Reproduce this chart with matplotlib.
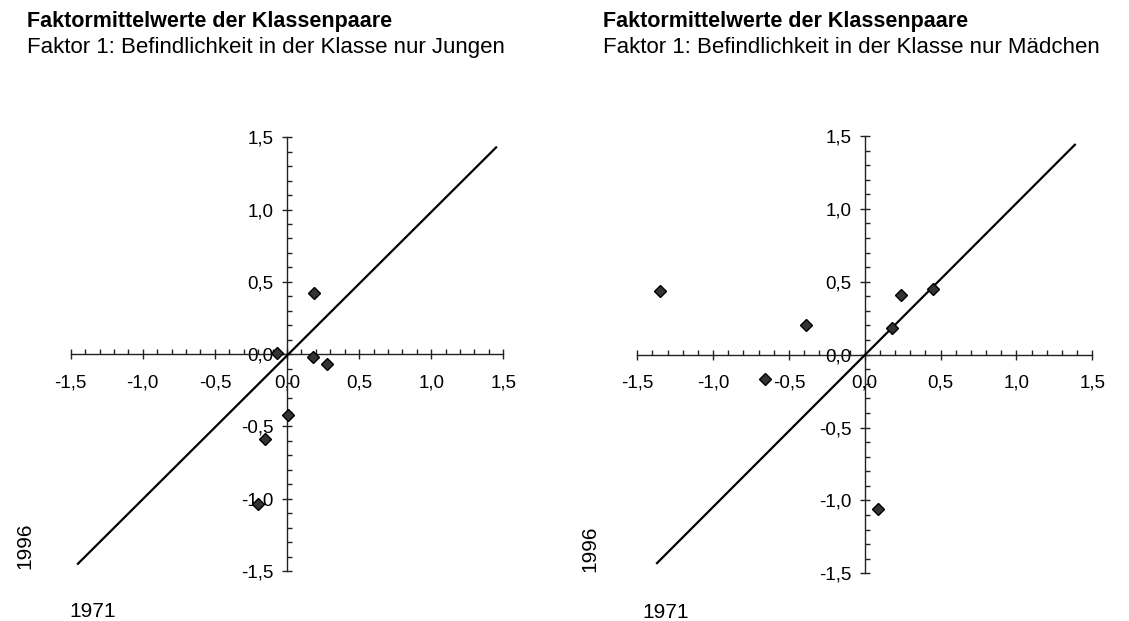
import numpy as np
import matplotlib.pyplot as plt
from matplotlib.ticker import MultipleLocator, FuncFormatter

plt.rcParams['font.family'] = ['Liberation Sans', 'DejaVu Sans']

# Jungen: Faktormittelwerte 1971 (x) gegen 1996 (y)
jungen_1971 = [0.19, -0.07, 0.18, 0.28, 0.01, -0.15, -0.20]
jungen_1996 = [0.42, 0.01, -0.02, -0.07, -0.42, -0.59, -1.04]

# Mädchen
maedchen_1971 = [-1.35, -0.39, -0.66, 0.18, 0.24, 0.45, 0.09]
maedchen_1996 = [0.44, 0.20, -0.17, 0.18, 0.41, 0.45, -1.06]

# Diagonale (keine Veränderung)
diag_jungen_x = [-1.45, 1.45]
diag_jungen_y = [-1.45, 1.43]
diag_maedchen_x = [-1.37, 1.385]
diag_maedchen_y = [-1.43, 1.44]

major_ticks = [-1.5, -1.0, -0.5, 0.0, 0.5, 1.0, 1.5]

title = 'Faktormittelwerte der Klassenpaare'
sub_jungen = 'Faktor 1: Befindlichkeit in der Klasse nur Jungen'
sub_maedchen = 'Faktor 1: Befindlichkeit in der Klasse nur Mädchen'

W, H = 1129, 621
FS = 13.5
fig = plt.figure(figsize=(W / 100, H / 100), dpi=100)


def comma(v, pos):
    return f'{v:.1f}'.replace('.', ',')


def draw_panel(rect, xs, ys, dx, dy):
    ax = fig.add_axes(rect)
    ax.set_xlim(-1.5, 1.5)
    ax.set_ylim(-1.5, 1.5)
    for s in ['top', 'right']:
        ax.spines[s].set_visible(False)
    for s in ['left', 'bottom']:
        ax.spines[s].set_position(('data', 0))
        ax.spines[s].set_linewidth(1.0)
        ax.spines[s].set_color('#222222')
    ax.set_xticks(major_ticks)
    ax.set_yticks(major_ticks)
    ax.xaxis.set_minor_locator(MultipleLocator(0.1))
    ax.yaxis.set_minor_locator(MultipleLocator(0.1))
    ax.xaxis.set_major_formatter(FuncFormatter(comma))
    ax.yaxis.set_major_formatter(FuncFormatter(comma))
    ax.tick_params(which='major', direction='inout', length=7, width=1,
                   color='#222222', labelsize=FS)
    ax.tick_params(axis='x', which='major', pad=11)
    ax.tick_params(axis='y', which='major', pad=6)
    ax.tick_params(which='minor', direction='in', length=3.6, width=1,
                   color='#222222')
    ax.patch.set_visible(False)
    ax.plot(dx, dy, color='black', linewidth=1.6, zorder=3, clip_on=False)
    ax.plot(xs, ys, linestyle='none', marker='D', markersize=6.6,
            markerfacecolor='#333333', markeredgecolor='black',
            markeredgewidth=1, zorder=4, clip_on=False)
    return ax


draw_panel([70.7 / W, (H - 571) / H, 432.6 / W, 433.7 / H],
           jungen_1971, jungen_1996, diag_jungen_x, diag_jungen_y)
draw_panel([637.3 / W, (H - 573.3) / H, 455 / W, 437.3 / H],
           maedchen_1971, maedchen_1996, diag_maedchen_x, diag_maedchen_y)

# Überschriften
for x0, sub in [(27, sub_jungen), (603, sub_maedchen)]:
    fig.text(x0 / W, 1 - 27 / H, title, fontsize=15.5, fontweight='bold',
             va='baseline', ha='left')
    fig.text(x0 / W, 1 - 53 / H, sub, fontsize=16, va='baseline', ha='left')

# Achsenbeschriftungen
for xc, yb in [(25, 569), (590, 572)]:
    fig.text(xc / W, 1 - yb / H, '1996', fontsize=15, rotation=90,
             ha='center', va='bottom')
for x0, yb in [(69, 617), (642, 618)]:
    fig.text(x0 / W, 1 - yb / H, '1971', fontsize=15, ha='left',
             va='baseline')

fig.savefig('out.png', dpi=100)
